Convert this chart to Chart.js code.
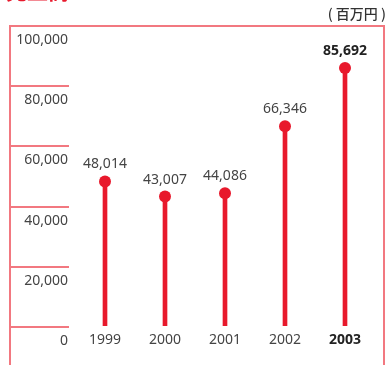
<!DOCTYPE html>
<html>
<head>
<meta charset="utf-8">
<script src="https://cdn.jsdelivr.net/npm/chart.js@4"></script>
<style>
  html, body { margin: 0; padding: 0; background: #fff; }
  #wrap { width: 388px; height: 365px; position: relative; }
</style>
</head>
<body>
<div id="wrap"><canvas id="salesChart" width="388" height="365"></canvas></div>
<script>
var years = ['1999', '2000', '2001', '2002', '2003'];
var sales = [48014, 43007, 44086, 66346, 85692];
var yTicks = [0, 20000, 40000, 60000, 80000, 100000];
var title = '売上高';
var unitLabel = '( 百万円 )';

var red = '#e8192c';
var lineRed = '#f27880';
var textColor = '#444';
var fontFamily = '"Noto Sans", "Noto Sans CJK JP", sans-serif';

function fmt(v) {
    return v.toLocaleString('en-US');
}

// frame, short grid lines, title and value labels
var decor = {
    id: 'decor',
    beforeDatasetsDraw: function(chart) {
        var c = chart.ctx;
        var area = chart.chartArea;
        var y = chart.scales.y;
        var top = Math.round(y.getPixelForValue(100000));
        c.save();
        c.fillStyle = lineRed;
        c.fillRect(9, top, 2, 365 - top);
        c.fillRect(9, top, 376, 2);
        c.fillRect(383, top, 2, 365 - top);
        yTicks.forEach(function(t) {
            var py = Math.round(y.getPixelForValue(t));
            c.fillRect(9, py, area.left - 15, 2);
        });
        c.fillStyle = red;
        c.font = 'bold 21px "Noto Sans CJK JP", sans-serif';
        c.textBaseline = 'bottom';
        c.textAlign = 'left';
        c.fillText(title, 6, 2);
        c.fillStyle = '#333';
        c.font = '500 14px "Noto Sans CJK JP", sans-serif';
        c.textAlign = 'right';
        c.textBaseline = 'middle';
        c.fillText(unitLabel, 386, 14);
        c.restore();
    },
    afterDatasetsDraw: function(chart) {
        var c = chart.ctx;
        var meta = chart.getDatasetMeta(1);
        c.save();
        c.textAlign = 'center';
        c.textBaseline = 'middle';
        meta.data.forEach(function(pt, i) {
            var last = i === sales.length - 1;
            c.fillStyle = last ? '#222' : textColor;
            c.font = (last ? 'bold ' : '') + '14px ' + fontFamily;
            c.fillText(fmt(sales[i]), pt.x, pt.y - 17);
        });
        c.restore();
    }
};

new Chart(document.getElementById('salesChart'), {
    type: 'bar',
    data: {
        labels: years,
        datasets: [{
            data: sales,
            backgroundColor: red,
            barThickness: 4,
            order: 2
        }, {
            type: 'line',
            data: sales,
            showLine: false,
            pointRadius: 6,
            pointHoverRadius: 6,
            pointBackgroundColor: red,
            pointBorderWidth: 0,
            order: 1
        }]
    },
    options: {
        responsive: false,
        animation: false,
        layout: { padding: { top: 25, right: 13, bottom: 0, left: 0 } },
        plugins: {
            legend: { display: false },
            tooltip: { enabled: false }
        },
        scales: {
            x: {
                grid: { display: false, drawTicks: false },
                border: { display: false },
                afterFit: function(s) { s.height = 39; },
                ticks: {
                    padding: 6,
                    color: function(ctx) { return ctx.index === 4 ? '#222' : textColor; },
                    font: function(ctx) {
                        return { family: fontFamily, size: 14, weight: ctx.index === 4 ? 'bold' : 'normal' };
                    }
                }
            },
            y: {
                min: 0,
                max: 100000,
                grid: { display: false, drawTicks: false },
                border: { display: false },
                afterFit: function(s) { s.width = 75; },
                afterBuildTicks: function(s) {
                    s.ticks = yTicks.map(function(v) { return { value: v }; });
                },
                ticks: {
                    padding: 7,
                    labelOffset: 15,
                    color: textColor,
                    font: { family: fontFamily, size: 14 },
                    callback: function(v) { return fmt(v); }
                }
            }
        }
    },
    plugins: [decor]
});
</script>
</body>
</html>
